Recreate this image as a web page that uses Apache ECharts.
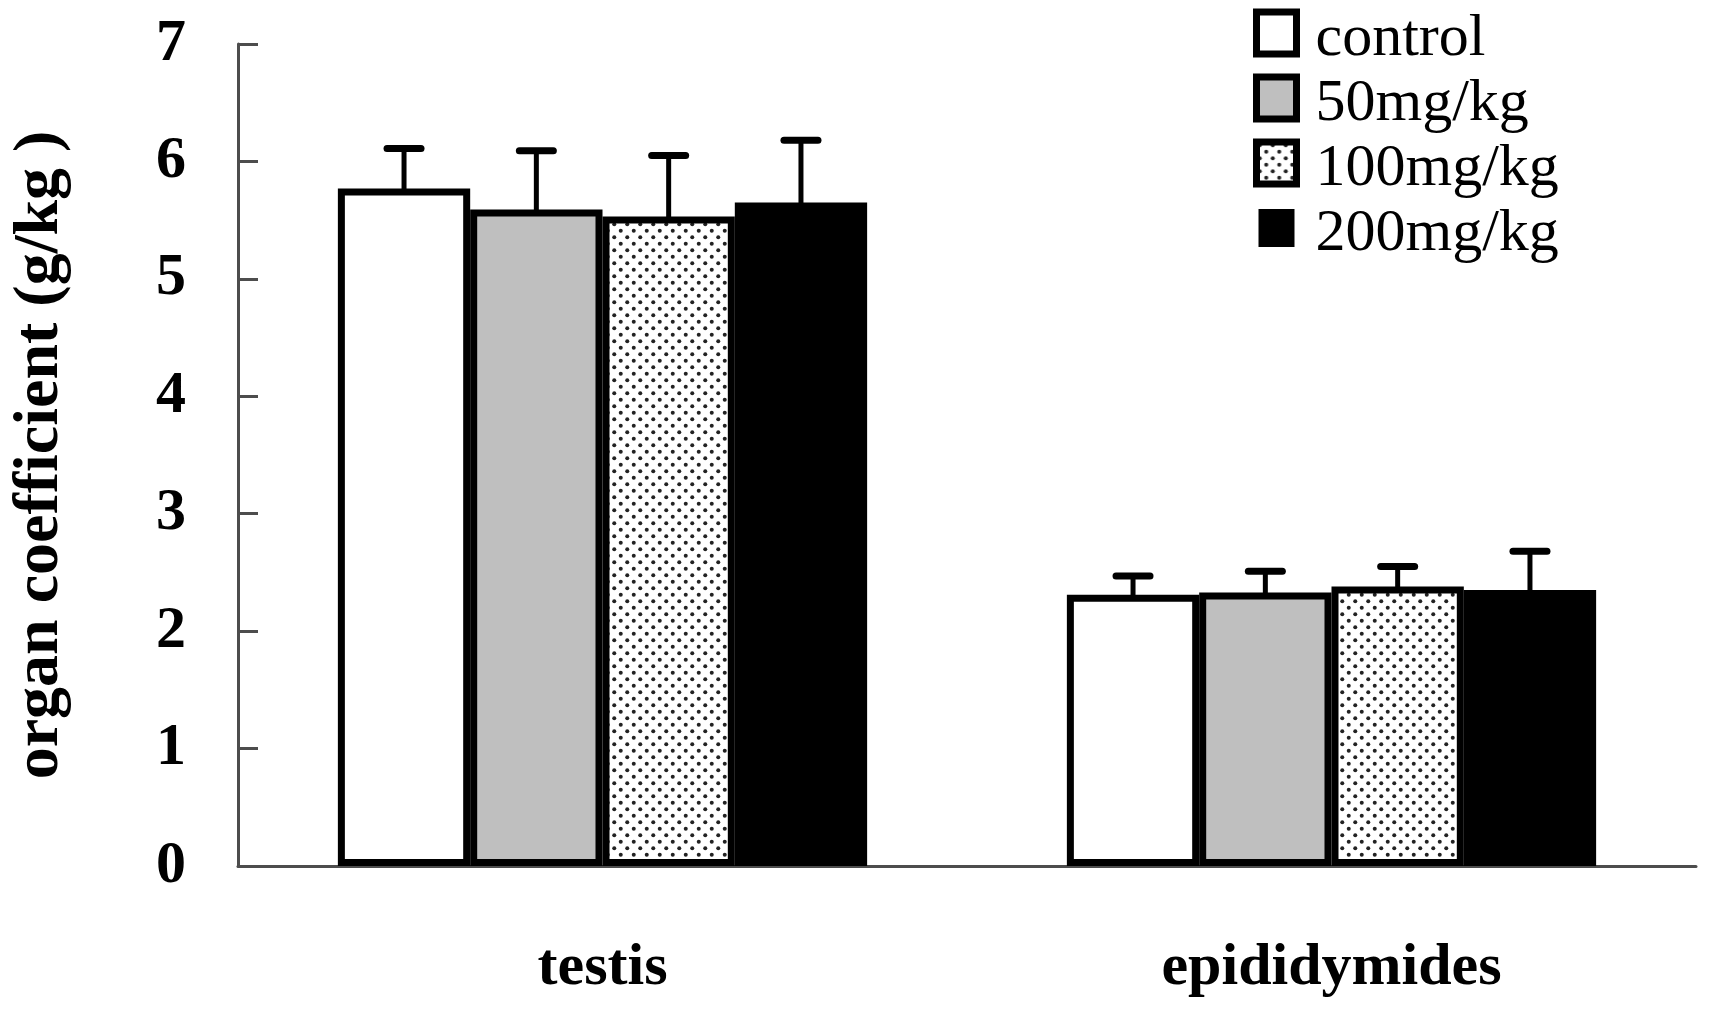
<!DOCTYPE html>
<html>
<head>
<meta charset="utf-8">
<script src="https://cdn.jsdelivr.net/npm/echarts@6/dist/echarts.min.js"></script>
<style>
html,body{margin:0;padding:0;background:#fff;}
#chart{width:1709px;height:1012px;}
</style>
</head>
<body>
<div id="chart"></div>
<script>
// ---- data ----
var categories = ['testis', 'epididymides'];
var groups = ['control', '50mg/kg', '100mg/kg', '200mg/kg'];
var meanControl = [5.77, 2.31];
var mean50 = [5.59, 2.33];
var mean100 = [5.53, 2.38];
var mean200 = [5.65, 2.35];
var capControl = [6.11, 2.47];
var cap50 = [6.09, 2.51];
var cap100 = [6.05, 2.55];
var cap200 = [6.18, 2.68];
var yTicks = [0, 1, 2, 3, 4, 5, 6, 7];

var means = [meanControl, mean50, mean100, mean200];
var caps = [capControl, cap50, cap100, cap200];

// dotted pattern
var T = 13;
var pc = document.createElement('canvas');
pc.width = T; pc.height = T;
var pctx = pc.getContext('2d');
pctx.fillStyle = '#fff'; pctx.fillRect(0, 0, T, T);
pctx.fillStyle = '#222';
pctx.beginPath(); pctx.arc(T / 4, T / 4, 2, 0, Math.PI * 2); pctx.fill();
pctx.beginPath(); pctx.arc(3 * T / 4, 3 * T / 4, 2, 0, Math.PI * 2); pctx.fill();

var fills = ['#ffffff', '#bfbfbf', {image: pc, repeat: 'repeat'}, '#000000'];
var FONT = "'Liberation Serif', 'Times New Roman', serif";
var CAT_GAP = 0.274, BAR_GAP = 0;

var series = [];
groups.forEach(function (g, i) {
  series.push({
    name: g,
    type: 'bar',
    data: means[i],
    barCategoryGap: (CAT_GAP * 100) + '%',
    barGap: (BAR_GAP * 100) + '%',
    itemStyle: {color: fills[i], borderColor: '#000', borderWidth: 7},
    emphasis: {disabled: true},
    z: 2
  });
});
groups.forEach(function (g, i) {
  series.push({
    type: 'custom',
    name: g + ' err',
    data: means[i].map(function (m, k) { return [k, m, caps[i][k]]; }),
    z: 5,
    renderItem: function (params, api) {
      var k = api.value(0);
      var bandW = api.size([1, 0])[0];
      var remain = bandW * (1 - CAT_GAP);
      var n = groups.length;
      var w = remain / (n + (n - 1) * BAR_GAP);
      var total = n * w + (n - 1) * w * BAR_GAP;
      var cx = api.coord([k, 0])[0] - total / 2 + w / 2 + i * w * (1 + BAR_GAP);
      var yTop = api.coord([k, api.value(1)])[1];
      var yCap = api.coord([k, api.value(2)])[1];
      return {
        type: 'group',
        children: [
          {type: 'line', shape: {x1: cx, y1: yTop + 2, x2: cx, y2: yCap},
           style: {stroke: '#000', lineWidth: 5}},
          {type: 'line', shape: {x1: cx - 17, y1: yCap, x2: cx + 17, y2: yCap},
           style: {stroke: '#000', lineWidth: 7, lineCap: 'round'}}
        ]
      };
    }
  });
});

var chart = echarts.init(document.getElementById('chart'));
chart.setOption({
  animation: false,
  backgroundColor: '#fff',
  grid: {left: 230, right: 13, top: 44, bottom: 146, containLabel: false},
  legend: {
    orient: 'vertical',
    left: 1253, top: -3,
    padding: 0,
    itemWidth: 40, itemHeight: 42,
    itemGap: -7,
    icon: 'rect',
    formatter: function (name) { return '{t|' + name + '}'; },
    textStyle: {
      fontFamily: FONT, fontSize: 60, color: '#000',
      rich: {t: {fontFamily: FONT, fontSize: 60, color: '#000', lineHeight: 50, padding: [12, 0, 0, 14]}}
    },
    data: [
      {name: groups[0], itemStyle: {borderColor: '#000', borderWidth: 7}},
      {name: groups[1], itemStyle: {borderColor: '#000', borderWidth: 7}},
      {name: groups[2], itemStyle: {borderColor: '#000', borderWidth: 7}},
      {name: groups[3], itemStyle: {borderColor: '#fff', borderWidth: 4}}
    ],
    selectedMode: false
  },
  xAxis: {
    type: 'category',
    data: categories,
    axisLine: {lineStyle: {color: '#4d4d4d', width: 3}},
    axisTick: {inside: true, length: 20, lineStyle: {color: '#4d4d4d', width: 3}},
    axisLabel: {fontFamily: FONT, fontSize: 60, fontWeight: 'bold', color: '#000', margin: 72}
  },
  yAxis: {
    type: 'value',
    min: yTicks[0], max: yTicks[yTicks.length - 1], interval: 1,
    name: 'organ coefficient (g/kg )',
    nameLocation: 'middle',
    nameGap: 166,
    nameTextStyle: {fontFamily: FONT, fontSize: 64, fontWeight: 'bold', color: '#000'},
    axisLine: {show: true, lineStyle: {color: '#4d4d4d', width: 3}},
    axisTick: {show: true, inside: true, length: 20, lineStyle: {color: '#4d4d4d', width: 3}},
    axisLabel: {fontFamily: FONT, fontSize: 60, fontWeight: 'bold', color: '#000', margin: 52, padding: [6, 0, 0, 0]},
    splitLine: {show: false}
  },
  series: series
});
</script>
</body>
</html>
